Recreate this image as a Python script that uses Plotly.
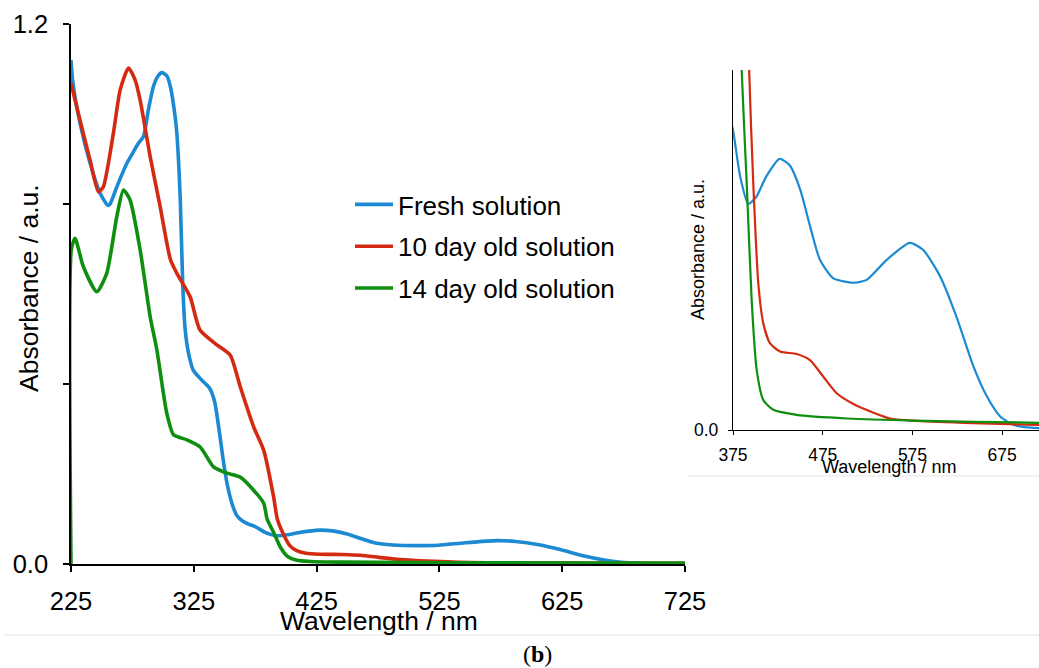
import plotly.graph_objects as go

# ---------------- data ----------------
series_names = ["Fresh solution", "10 day old solution", "14 day old solution"]
series_colors = ["#1b8ad3", "#d42a12", "#0f8f0f"]

wl_fresh = [225, 226.4, 232.3, 240.5, 248.7, 255, 256.8, 262.3, 270.4, 275.8, 279.9, 284, 288,
            292, 296, 299, 303, 306, 309.8, 311.2, 314, 316, 318, 320.6, 324.5, 331, 338, 342,
            346, 349, 352, 356, 360, 365, 370, 375, 383, 392, 401, 412, 427, 438, 450, 461, 472,
            487, 509, 524, 546, 572, 587, 606, 624, 643, 658, 673, 688, 700, 716, 725]
abs_fresh = [1.12, 1.073, 0.98, 0.891, 0.824, 0.797, 0.80, 0.838, 0.89, 0.916, 0.935, 0.95, 1.009,
             1.06, 1.085, 1.092, 1.085, 1.06, 0.994, 0.957, 0.809, 0.62, 0.52, 0.47, 0.431, 0.41,
             0.39, 0.36, 0.29, 0.23, 0.18, 0.135, 0.108, 0.095, 0.088, 0.0833, 0.0704, 0.0628,
             0.0648, 0.0704, 0.0753, 0.0736, 0.0667, 0.0565, 0.0472, 0.0421, 0.0409, 0.0417,
             0.0472, 0.052, 0.050, 0.0426, 0.0315, 0.0176, 0.0093, 0.0037, 0.0014, 0.0008,
             0.0005, 0.0]

wl_10day = [225, 235, 240.5, 247.3, 251.3, 259.5, 265, 271.8, 277.2, 281.3, 289.5, 297.6, 306,
            311.2, 322, 330, 343.8, 354.7, 362.8, 373.7, 381.9, 390, 393, 397.6, 403.2, 408.8,
            416.2, 427.4, 446, 460.8, 475.7, 490.6, 509.2, 531.6, 550, 576, 632, 716, 725]
abs_10day = [1.068, 0.957, 0.898, 0.827, 0.838, 0.957, 1.053, 1.102, 1.076, 1.031, 0.905, 0.794,
             0.676, 0.646, 0.594, 0.52, 0.487, 0.464, 0.394, 0.305, 0.253, 0.149, 0.10, 0.0685,
             0.0407, 0.0296, 0.0241, 0.0218, 0.0211, 0.0194, 0.0148, 0.0102, 0.0072, 0.0048,
             0.0032, 0.0026, 0.0020, 0.0014, 0.0013]

wl_14day = [225, 225.3, 228.3, 235, 246, 254.1, 262.3, 267.7, 273.1, 281.3, 289.5, 294.9, 303,
            308.5, 319.4, 330.2, 341, 352, 362.8, 373.7, 381.9, 384.7, 390.3, 395.8, 401.4,
            408.8, 420, 446, 502, 576, 716, 725]
abs_14day = [0.0, 0.70, 0.724, 0.661, 0.605, 0.646, 0.772, 0.831, 0.809, 0.698, 0.549, 0.476,
             0.335, 0.287, 0.276, 0.26, 0.216, 0.202, 0.193, 0.164, 0.135, 0.10, 0.0685, 0.036,
             0.0167, 0.0083, 0.0056, 0.0042, 0.0032, 0.0026, 0.0020, 0.0020]

main_xticks = [225, 325, 425, 525, 625, 725]
main_yticks = [0.0, 0.4, 0.8, 1.2]
main_yticktext = ["0.0", "", "", "1.2"]
inset_xticks = [375, 475, 575, 675]

x_title = "Wavelength / nm"
y_title = "Absorbance / a.u."
caption = "(<b>b</b>)"

# ---------------- figure ----------------
W, H = 1039, 668
FONT = "Arial, Liberation Sans, Helvetica, sans-serif"


def px_x(p):
    return p / W


def px_y(p):
    return 1 - p / H


fig = go.Figure()
wls = [wl_fresh, wl_10day, wl_14day]
vals = [abs_fresh, abs_10day, abs_14day]

for name, col, x, y in zip(series_names, series_colors, wls, vals):
    fig.add_trace(go.Scatter(x=x, y=y, mode="lines", name=name, legendgroup=name,
                             line=dict(color=col, width=3.6, shape="spline", smoothing=0.6),
                             xaxis="x", yaxis="y"))
for name, col, x, y in zip(series_names, series_colors, wls, vals):
    fig.add_trace(go.Scatter(x=x, y=y, mode="lines", name=name, legendgroup=name,
                             showlegend=False,
                             line=dict(color=col, width=2.2, shape="spline", smoothing=0.6),
                             xaxis="x2", yaxis="y2"))

axis_common = dict(showgrid=False, zeroline=False, showline=True, linecolor="black",
                   ticks="outside", tickcolor="black", color="black", automargin=False)

fig.update_layout(
    template="none",
    width=W, height=H,
    margin=dict(l=0, r=0, t=0, b=0, pad=0, autoexpand=False),
    paper_bgcolor="white", plot_bgcolor="white",
    font=dict(family=FONT, color="black"),
    showlegend=True,
    legend=dict(x=px_x(350), y=px_y(181), xanchor="left", yanchor="top",
                font=dict(size=26, family=FONT, color="black"),
                bgcolor="rgba(0,0,0,0)", borderwidth=0, tracegroupgap=5, itemwidth=38),
    xaxis=dict(domain=[px_x(71), px_x(685)], range=[225, 725], anchor="y",
               tickvals=main_xticks, ticklen=6, tickwidth=1.5, linewidth=1.5,
               tickfont=dict(size=25.5), ticklabelstandoff=8, **axis_common),
    yaxis=dict(domain=[px_y(564), px_y(24)], range=[0, 1.2], anchor="x",
               tickvals=main_yticks, ticktext=main_yticktext, ticklen=6, tickwidth=1.5,
               linewidth=1.5, tickfont=dict(size=25.5), ticklabelstandoff=10, **axis_common),
    xaxis2=dict(domain=[px_x(733), 1.0], range=[375, 716], anchor="y2",
                tickvals=inset_xticks, ticklen=4, tickwidth=1.2, linewidth=1.3,
                tickfont=dict(size=17.5), ticklabelstandoff=5, **axis_common),
    yaxis2=dict(domain=[px_y(430), px_y(70)], range=[0, 0.1], anchor="x2",
                tickvals=[0.0], ticktext=["0.0"], ticklen=4, tickwidth=1.2, linewidth=1.3,
                tickfont=dict(size=17.5), ticklabelstandoff=6, **axis_common),
)

ann = [
    dict(text=x_title, x=px_x(379), y=px_y(621), xref="paper", yref="paper",
         showarrow=False, font=dict(size=26.5), xanchor="center", yanchor="middle"),
    dict(text=y_title, x=px_x(29), y=px_y(288), xref="paper", yref="paper",
         showarrow=False, font=dict(size=26.5), textangle=-90, xanchor="center", yanchor="middle"),
    dict(text=x_title, x=px_x(889), y=px_y(467), xref="paper", yref="paper",
         showarrow=False, font=dict(size=18), xanchor="center", yanchor="middle"),
    dict(text=y_title, x=px_x(698), y=px_y(250), xref="paper", yref="paper",
         showarrow=False, font=dict(size=18), textangle=-90, xanchor="center", yanchor="middle"),
    dict(text=caption, x=px_x(537), y=px_y(654), xref="paper", yref="paper",
         showarrow=False, font=dict(size=24, family="Liberation Serif, DejaVu Serif, serif"),
         xanchor="center", yanchor="middle"),
]
fig.update_layout(annotations=ann)

fig.add_shape(type="line", xref="paper", yref="paper", x0=px_x(4), x1=1.0,
              y0=px_y(635), y1=px_y(635), line=dict(color="#e4e4e4", width=1))
fig.add_shape(type="line", xref="paper", yref="paper", x0=px_x(688), x1=1.0,
              y0=px_y(476), y1=px_y(476), line=dict(color="#e4e4e4", width=1))

fig.write_html("out.html")
